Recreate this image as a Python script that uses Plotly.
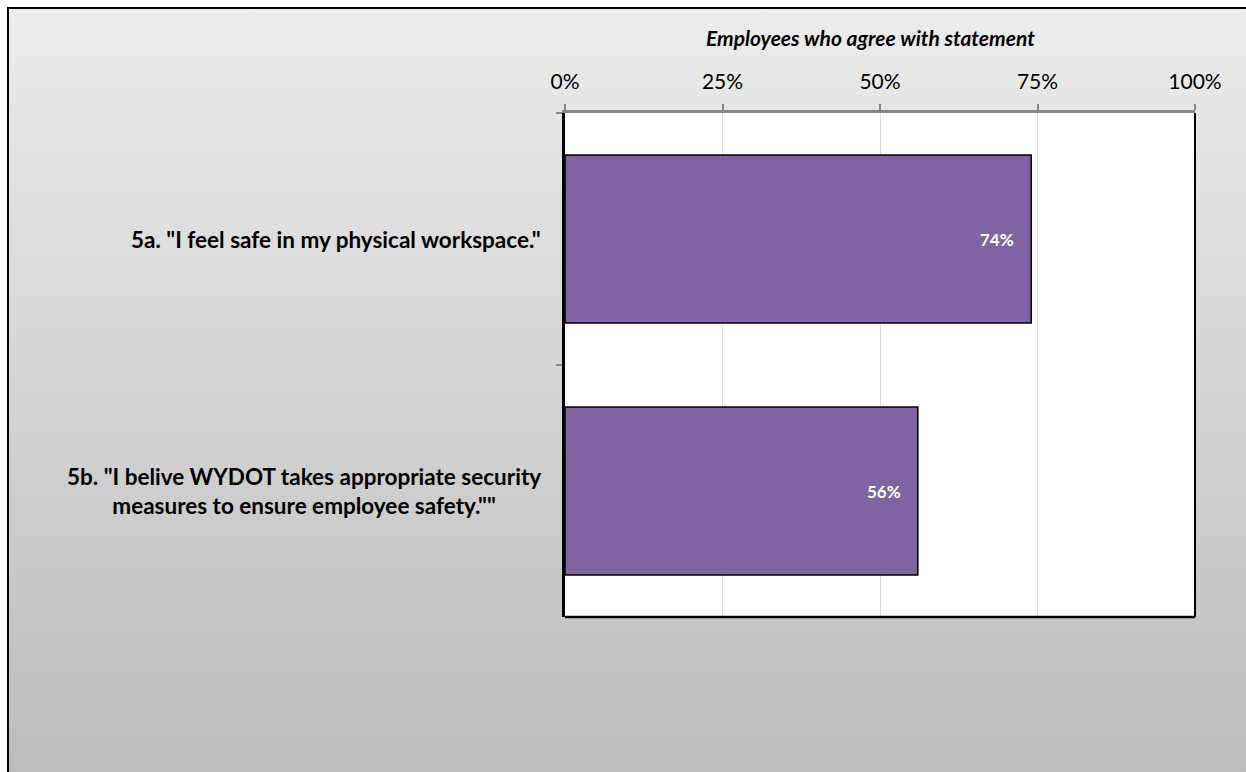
import base64
import plotly.graph_objects as go

categories = ['5a. "I feel safe in my physical workspace."',
              '5b. "I belive WYDOT takes appropriate security<br>measures to ensure employee safety.""']
values = [0.74, 0.56]
value_labels = ["74%", "56%"]
tick_vals = [0, 0.25, 0.5, 0.75, 1.0]
tick_text = ["0%", "25%", "50%", "75%", "100%"]
axis_title = "Employees who agree with statement"

W, H = 1246, 772
L, R, T, B = 565, 51, 113, 155
pw, ph = W - L - R, H - T - B

svg = f'''<svg xmlns="http://www.w3.org/2000/svg" width="{W}" height="{H}" viewBox="0 0 {W} {H}" preserveAspectRatio="none">
<defs><linearGradient id="g" x1="0" y1="0" x2="0" y2="1">
<stop offset="0" stop-color="#ececec"/><stop offset="1" stop-color="#bcbcbc"/></linearGradient></defs>
<rect x="0" y="0" width="{W}" height="{H}" fill="white"/>
<rect x="8" y="8" width="{W}" height="{H}" fill="url(#g)" stroke="#000" stroke-width="2"/>
<rect x="{L}" y="{T}" width="{pw}" height="{ph}" fill="white"/>
</svg>'''
src = "data:image/svg+xml;base64," + base64.b64encode(svg.encode()).decode()

fig = go.Figure()
fig.add_trace(go.Bar(
    y=categories, x=values, orientation="h",
    marker=dict(color="#8064A2", line=dict(color="#000000", width=1.5)),
    width=0.667,
    hoverinfo="skip",
))

annotations = []
for c in categories:
    annotations.append(dict(
        x=-22 / pw, xref="paper", y=c, yref="y", text=f"<b>{c}</b>",
        showarrow=False, xanchor="right", yanchor="middle", align="center",
        font=dict(family="Lato", size=22.5, color="#000000"),
    ))
for c, v, t in zip(categories, values, value_labels):
    annotations.append(dict(
        x=v, xref="x", y=c, yref="y", text=f"<b>{t}</b>",
        showarrow=False, xanchor="right", yanchor="middle", xshift=-15,
        font=dict(family="Lato", size=17, color="white"),
    ))
annotations.append(dict(
    x=(870 - L) / pw, xref="paper", y=(T + ph - 37) / ph, yref="paper",
    text=f"<b><i>{axis_title}</i></b>", showarrow=False,
    xanchor="center", yanchor="middle",
    font=dict(family="Lato", size=21, color="#000000"),
))

fig.update_layout(
    width=W, height=H,
    margin=dict(l=L, r=R, t=T, b=B, pad=0),
    paper_bgcolor="white", plot_bgcolor="rgba(0,0,0,0)",
    showlegend=False,
    bargap=0.333,
    images=[dict(source=src, xref="paper", yref="paper",
                 x=-L / pw, y=(ph + T) / ph, sizex=W / pw, sizey=H / ph,
                 xanchor="left", yanchor="top", sizing="stretch", layer="below")],
    annotations=annotations,
    shapes=[
        dict(type="line", xref="paper", yref="paper", x0=0, x1=1, y0=0, y1=0,
             line=dict(color="#000000", width=2.5)),
        dict(type="line", xref="paper", yref="paper", x0=1, x1=1, y0=0, y1=1,
             line=dict(color="#000000", width=2)),
    ],
    xaxis=dict(
        side="top", range=[0, 1], tickvals=tick_vals, ticktext=tick_text,
        showgrid=True, gridcolor="#D9D9D9", gridwidth=1,
        showline=True, linecolor="#868686", linewidth=3,
        ticks="outside", ticklen=6, tickcolor="#868686", tickwidth=1.5,
        ticklabelstandoff=7,
        tickfont=dict(family="Lato", size=21, color="#000000"),
        zeroline=False, fixedrange=True,
    ),
    yaxis=dict(
        autorange="reversed", showticklabels=False,
        showline=True, linecolor="#000000", linewidth=2.5,
        ticks="outside", tickson="boundaries", ticklen=6, tickcolor="#868686", tickwidth=1.5,
        showgrid=False, zeroline=False, fixedrange=True,
    ),
)

fig.write_html("out.html")
